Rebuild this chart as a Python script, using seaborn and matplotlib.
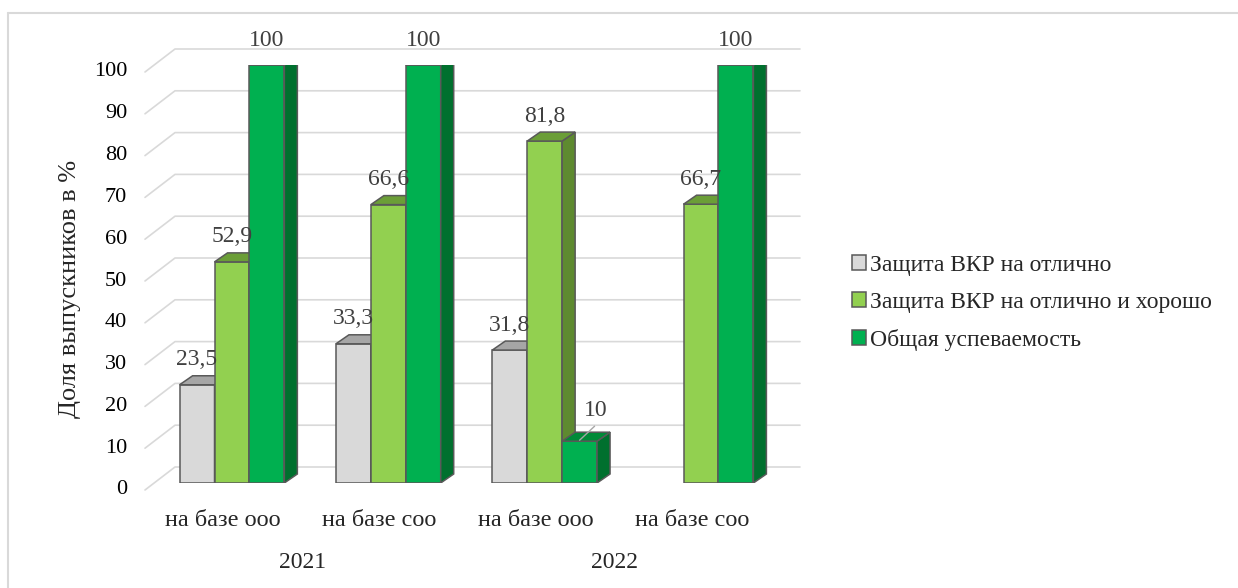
import numpy as np
import pandas as pd
import matplotlib
matplotlib.use('Agg')
import matplotlib.pyplot as plt
import seaborn as sns
from matplotlib.patches import Polygon, Patch
from matplotlib.colors import to_hex

# Data
categories = ["2021 ооо", "2021 соо", "2022 ооо", "2022 соо"]
tick_labels = ["на базе ооо", "на базе соо", "на базе ооо", "на базе соо"]
years = ["2021", "2022"]
series = ["Защита ВКР на отлично", "Защита ВКР на отлично и хорошо", "Общая успеваемость"]
excellent = [23.5, 33.3, 31.8, np.nan]
good = [52.9, 66.6, 81.8, 66.7]
overall = [100, 100, 10, 100]

front_colors = {series[0]: "#d9d9d9", series[1]: "#92d050", series[2]: "#00b050"}
side_colors = {"#d9d9d9": "#8f8f8f", "#92d050": "#5e8a30", "#00b050": "#00702e"}
top_colors = {"#d9d9d9": "#a6a6a6", "#92d050": "#6b9e37", "#00b050": "#008a38"}

df = pd.DataFrame({
    "group": np.tile(categories, 3),
    "series": np.repeat(series, 4),
    "value": excellent + good + overall,
}).dropna()

sns.set_style("white")
plt.rcParams['font.family'] = ['Liberation Serif', 'DejaVu Serif']

W, H = 1238, 588
fig = plt.figure(figsize=(W / 100, H / 100), dpi=100)
ax_left, ax_right, ax_top, ax_bottom = 153.8, 779.2, 65, 483
ax = fig.add_axes([ax_left / W, (H - ax_bottom) / H, (ax_right - ax_left) / W, (ax_bottom - ax_top) / H])

sns.barplot(data=df, x="group", y="value", hue="series", order=categories, hue_order=series,
            palette=front_colors, saturation=1, width=0.67, errorbar=None, edgecolor="#595959",
            linewidth=1.1, legend=False, ax=ax)

ax.set_xlim(-0.5, 3.5)
ax.set_ylim(0, 100)
ax.set_axis_off()

# pixels per data unit
ppx = (ax_right - ax_left) / 4
ppu = (ax_bottom - ax_top) / 100
dx, dy = 13 / ppx, 9 / ppu

# back wall gridlines with the diagonal to the front
xf = (145 - ax_left) / (ax_right - ax_left)
xb = (175 - ax_left) / (ax_right - ax_left)
xe = (800 - ax_left) / (ax_right - ax_left)
ytr = ax.get_yaxis_transform()
for v in range(0, 101, 10):
    ax.plot([xf, xb, xe], [v - 7 / ppu, v + 16 / ppu, v + 16 / ppu], color="#d9d9d9",
            lw=1.2, transform=ytr, clip_on=False, zorder=1)
    ax.text((127 - ax_left) / (ax_right - ax_left), v - 7 / ppu, str(v), transform=ytr,
            ha="right", va="center", fontsize=16, color="#000000")

# 3D sides, tops and value labels
bars = sorted([p for p in ax.patches if np.isfinite(p.get_height())], key=lambda p: p.get_x())
for i, p in enumerate(bars):
    x0, w, h = p.get_x(), p.get_width(), p.get_height()
    fc = to_hex(p.get_facecolor())
    z = 3 + i * 0.01
    p.set_zorder(z)
    side = Polygon([(x0 + w, 0), (x0 + w + dx, dy), (x0 + w + dx, h + dy), (x0 + w, h)],
                   closed=True, facecolor=side_colors.get(fc, fc), edgecolor="#595959", lw=1.1, zorder=z + 0.001)
    top = Polygon([(x0, h), (x0 + dx, h + dy), (x0 + w + dx, h + dy), (x0 + w, h)],
                  closed=True, facecolor=top_colors.get(fc, fc), edgecolor="#595959", lw=1.1, zorder=z + 0.002)
    ax.add_patch(side)
    ax.add_patch(top)
    cx = x0 + w / 2
    label = f"{h:g}".replace(".", ",")
    if h < 15:
        ax.plot([cx + 15 / ppx, cx], [h + 15 / ppu, h + 1 / ppu], color="#a6a6a6", lw=1, zorder=10, clip_on=False)
        ax.text(cx + 16 / ppx, h + 31 / ppu, label, ha="center", va="center", fontsize=17,
                color="#404040", zorder=10, clip_on=False)
    else:
        ax.text(cx, h + 25 / ppu, label, ha="center", va="center", fontsize=17,
                color="#404040", zorder=10, clip_on=False)

# category and year labels
xtr = ax.get_xaxis_transform()
for i, lab in enumerate(tick_labels):
    ax.text(i - 9 / ppx, (ax_bottom - 521) / (ax_bottom - ax_top), lab, transform=xtr,
            ha="center", va="center", fontsize=17.5)
for j, yr in enumerate(years):
    ax.text(2 * j + 0.5 - 8 / ppx, (ax_bottom - 563) / (ax_bottom - ax_top), yr, transform=xtr,
            ha="center", va="center", fontsize=17)

fig.text(70 / W, (H - 289) / H, "Доля выпускников в %", rotation=90, ha="center", va="center", fontsize=19)

handles = [Patch(facecolor=front_colors[s], edgecolor="#595959", lw=1.1, label=s) for s in series]
fig.legend(handles=handles, loc="center left", bbox_to_anchor=(831 / W, (H - 303) / H), frameon=False,
           handlelength=0.6, handleheight=0.6, handletextpad=0.15, labelspacing=0.68, fontsize=17)

# chart area border
fig.add_artist(plt.Line2D([8 / W, 1], [(H - 13) / H] * 2, color="#d9d9d9", lw=1.5, transform=fig.transFigure))
fig.add_artist(plt.Line2D([8 / W] * 2, [0, (H - 13) / H], color="#d9d9d9", lw=1.5, transform=fig.transFigure))

fig.savefig("out.png", dpi=100)
